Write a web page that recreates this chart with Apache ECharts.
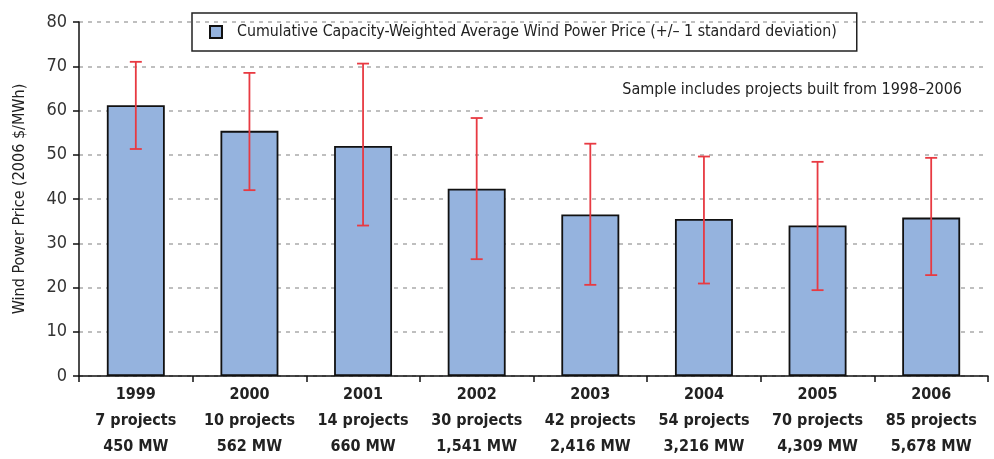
<!DOCTYPE html>
<html>
<head>
<meta charset="utf-8">
<script src="https://cdn.jsdelivr.net/npm/echarts@6/dist/echarts.min.js"></script>
<style>
  html, body { margin: 0; padding: 0; background: #fff; }
  #chart { width: 994px; height: 459px; }
</style>
</head>
<body>
<div id="chart"></div>
<script>
// category labels
const years = ["1999", "2000", "2001", "2002", "2003", "2004", "2005", "2006"];
const projects = ["7 projects", "10 projects", "14 projects", "30 projects", "42 projects", "54 projects", "70 projects", "85 projects"];
const capacity = ["450 MW", "562 MW", "660 MW", "1,541 MW", "2,416 MW", "3,216 MW", "4,309 MW", "5,678 MW"];

// average price and +/- 1 std dev bounds
const avgPrice = [61.2, 55.4, 52.0, 42.3, 36.5, 35.5, 34.0, 35.8];
const lowBound = [51.3, 42.0, 34.0, 26.4, 20.6, 20.9, 19.4, 22.8];
const highBound = [71.0, 68.5, 70.6, 58.3, 52.5, 49.6, 48.4, 49.3];

const yTicks = [0, 10, 20, 30, 40, 50, 60, 70, 80];

const FONT = "'DejaVu Sans Condensed', 'Liberation Sans Narrow', 'Liberation Sans', sans-serif";
const SERIES_NAME = "Cumulative Capacity-Weighted Average Wind Power Price (+/\u2013 1 standard deviation)";

let myChart = echarts.init(document.getElementById("chart"));

const errData = years.map((y, i) => [i, lowBound[i], highBound[i]]);

let option = {
  animation: false,
  textStyle: { fontFamily: FONT },
  title: {
    text: "Sample includes projects built from 1998\u20132006",
    right: 27,
    top: 77,
    textStyle: { fontFamily: FONT, fontSize: 16, fontWeight: "normal", color: "#222" },
  },
  legend: {
    left: 192,
    top: 13,
    padding: [11, 20, 11, 17],
    borderColor: "#222",
    borderWidth: 1.5,
    itemWidth: 12,
    itemHeight: 12,
    data: [{ name: SERIES_NAME, icon: "rect" }],
    textStyle: { fontFamily: FONT, fontSize: 15.8, color: "#222", padding: [0, 0, 0, 10] },
  },
  grid: { left: 79, right: 6, top: 22, bottom: 83, outerBoundsMode: "none", containLabel: false },
  xAxis: {
    type: "category",
    data: years,
    axisLine: { lineStyle: { color: "#111", width: 1.5 } },
    axisTick: { show: true, length: 6, lineStyle: { color: "#111", width: 1.5 } },
    axisLabel: {
      interval: 0,
      margin: 6,
      fontFamily: FONT,
      fontSize: 16,
      fontWeight: "bold",
      color: "#222",
      lineHeight: 26,
      formatter: (v, i) => v + "\n" + projects[i] + "\n" + capacity[i],
    },
  },
  yAxis: {
    type: "value",
    min: yTicks[0],
    max: yTicks[yTicks.length - 1],
    interval: 10,
    name: "Wind Power Price (2006 $/MWh)",
    nameLocation: "middle",
    nameGap: 51,
    nameTextStyle: { fontFamily: FONT, fontSize: 16, color: "#222" },
    axisLine: { show: true, lineStyle: { color: "#111", width: 1.5 } },
    axisTick: { show: true, length: 6, lineStyle: { color: "#111", width: 1.5 } },
    axisLabel: { fontFamily: FONT, fontSize: 18, color: "#333", margin: 12 },
    splitLine: { lineStyle: { color: "#aaa", width: 1.5, type: [4, 5] } },
  },
  series: [
    {
      name: SERIES_NAME,
      type: "bar",
      barWidth: "51%",
      data: avgPrice,
      itemStyle: { color: "#95b3de", borderColor: "#111", borderWidth: 1.8 },
    },
    {
      name: "err",
      type: "custom",
      data: errData,
      z: 10,
      renderItem: (params, api) => {
        const x = api.value(0);
        const lo = api.coord([x, api.value(1)]);
        const hi = api.coord([x, api.value(2)]);
        const half = 6;
        const style = { stroke: "#e83a42", lineWidth: 1.8 };
        return {
          type: "group",
          children: [
            { type: "line", shape: { x1: lo[0], y1: lo[1], x2: hi[0], y2: hi[1] }, style },
            { type: "line", shape: { x1: hi[0] - half, y1: hi[1], x2: hi[0] + half, y2: hi[1] }, style },
            { type: "line", shape: { x1: lo[0] - half, y1: lo[1], x2: lo[0] + half, y2: lo[1] }, style },
          ],
        };
      },
    },
  ],
};
myChart.setOption(option);
</script>
</body>
</html>
